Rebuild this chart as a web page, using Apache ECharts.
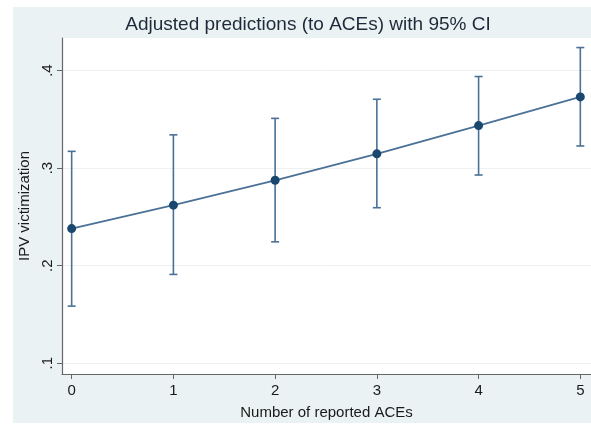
<!DOCTYPE html>
<html>
<head>
<meta charset="utf-8">
<script src="https://cdn.jsdelivr.net/npm/echarts@6/dist/echarts.min.js"></script>
<style>
  html, body { margin: 0; padding: 0; background: #fff; }
  #chart { width: 591px; height: 425px; }
</style>
</head>
<body>
<div id="chart"></div>
<script>
// Data
const aces = [0, 1, 2, 3, 4, 5];
const predicted = [0.238, 0.262, 0.2875, 0.3146, 0.3436, 0.373];
const ciLower = [0.1585, 0.191, 0.2244, 0.2594, 0.2929, 0.3227];
const ciUpper = [0.3172, 0.3341, 0.351, 0.3706, 0.3939, 0.4236];
const yTicks = [0.1, 0.2, 0.3, 0.4];
const xTicks = [0, 1, 2, 3, 4, 5];

const NAVY = '#1a476f';
const LINE = '#4b7196';
const FONT = '"Liberation Sans", Arial, sans-serif';

let chart = echarts.init(document.getElementById('chart'));

// Error bar renderer: vertical line with small caps
function renderErrorBar(params, api) {
    const x = api.value(0);
    const lo = api.coord([x, api.value(1)]);
    const hi = api.coord([x, api.value(2)]);
    const cap = 4;
    const style = { stroke: LINE, lineWidth: 1.6, fill: null };
    return {
        type: 'group',
        children: [
            { type: 'line', shape: { x1: lo[0], y1: lo[1], x2: hi[0], y2: hi[1] }, style: style },
            { type: 'line', shape: { x1: lo[0] - cap, y1: lo[1], x2: lo[0] + cap, y2: lo[1] }, style: style },
            { type: 'line', shape: { x1: hi[0] - cap, y1: hi[1], x2: hi[0] + cap, y2: hi[1] }, style: style }
        ]
    };
}

chart.setOption({
    backgroundColor: '#fff',
    animation: false,
    graphic: [{
        type: 'rect',
        left: 13, top: 7,
        shape: { width: 578, height: 416 },
        style: { fill: '#eaf2f3' },
        z: -10
    }],
    title: {
        text: 'Adjusted predictions (to ACEs) with 95% CI',
        left: 303, top: 10, textAlign: 'center',
        textStyle: { fontFamily: FONT, fontSize: 19, fontWeight: 'normal', color: '#1e2a3a' }
    },
    grid: {
        left: 62, top: 38, right: 0, bottom: 47,
        show: true, backgroundColor: '#fff', borderWidth: 0
    },
    xAxis: {
        type: 'value',
        min: -0.095, max: 5.105,
        name: 'Number of reported ACEs',
        nameLocation: 'middle', nameGap: 31,
        nameTextStyle: { fontFamily: FONT, fontSize: 15, color: '#1a1a1a' },
        axisLine: { show: true, onZero: false, lineStyle: { color: '#666', width: 1.2 } },
        axisTick: { show: true, length: 5, customValues: xTicks, lineStyle: { color: '#666' } },
        axisLabel: { customValues: xTicks, margin: 9, fontFamily: FONT, fontSize: 15, color: '#1a1a1a' },
        splitLine: { show: false }
    },
    yAxis: {
        type: 'value',
        min: 0.0889, max: 0.4334,
        name: 'IPV victimization',
        nameLocation: 'middle', nameGap: 27, nameRotate: 90,
        nameTextStyle: { fontFamily: FONT, fontSize: 15, color: '#1a1a1a' },
        axisLine: { show: true, onZero: false, lineStyle: { color: '#666', width: 1.2 } },
        axisTick: { show: true, length: 5, customValues: yTicks, lineStyle: { color: '#666' } },
        axisLabel: {
            customValues: yTicks, rotate: 90, margin: 7,
            fontFamily: FONT, fontSize: 15, color: '#1a1a1a',
            formatter: v => String(Math.round(v * 10) / 10).replace(/^0/, '')
        },
        splitLine: { show: true, lineStyle: { color: '#edf1f2', width: 1 } }
    },
    series: [
        {
            type: 'custom',
            renderItem: renderErrorBar,
            data: aces.map((a, i) => [a, ciLower[i], ciUpper[i]]),
            z: 2
        },
        {
            type: 'line',
            data: aces.map((a, i) => [a, predicted[i]]),
            symbol: 'circle', symbolSize: 9,
            lineStyle: { color: LINE, width: 1.8 },
            itemStyle: { color: NAVY },
            z: 3
        }
    ]
});
</script>
</body>
</html>
